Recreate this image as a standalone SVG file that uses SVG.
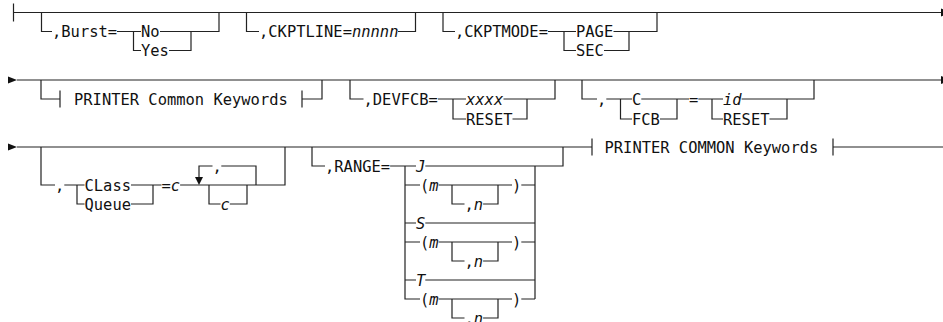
<svg xmlns="http://www.w3.org/2000/svg" width="943" height="322" viewBox="0 0 943 322">
<style>
.l{fill:none;stroke:#222;stroke-width:1.2}
.a{fill:#111;stroke:none}
text{font-family:"DejaVu Sans Mono",monospace;font-size:15.45px;fill:#111}
.i{font-style:italic}
</style>
<rect width="943" height="322" fill="#fff"/>
<g id="connectors">
<path class="l" d="M13.5 3.5V21.5M13.5 12.5H943"/>
<polygon class="a" points="941,8.5 951,12.5 941,16.5"/>
<path class="l" d="M41.5 12.5V31.5H52M117 31.5H141M133.5 31.5V50.5H141M160 31.5H219V12.5M169 50.5H191V31.5"/>
<path class="l" d="M246.5 12.5V31.5H259M398 31.5H415.5V12.5"/>
<path class="l" d="M443 12.5V31.5H455M548 31.5H576M564 31.5V50.5H576M613.5 31.5H657V12.5M604 50.5H629V31.5"/>
<polygon class="a" points="8,76.5 17,80 8,83.5"/>
<path class="l" d="M17 80H943"/>
<polygon class="a" points="941,76 951,80 941,84"/>
<path class="l" d="M41 80V99H60M60 90.5V107.5M302 90.5V107.5M302 99H322V80"/>
<path class="l" d="M350 80V99H363.5M438 99H466M453 99V119H466M503.5 99H555V80M512.5 119H527V99"/>
<path class="l" d="M582 80V99H597M606.3 99H632M620.5 99V119H632M641.3 99H689M660 119H677V99M698.3 99H723M712 99V119H723M741.6 99H814V80M769.5 119H787V99"/>
<polygon class="a" points="8,143.5 17,147 8,150.5"/>
<path class="l" d="M17 147H592M592 138.5V155.5M833 138.5V155.5M833 147H943"/>
<path class="l" d="M41 147V185H55M64.3 185H84.5M77 185V204H84.5M131 185H161.5M131 204H153V185M180.1 185H285V147"/>
<path class="l" d="M256 185V166H221.3M212.5 166H199V178M209 185V204H220.5M229.8 204H247V185"/>
<polygon class="a" points="195,177 203,177 199,185"/>
<path class="l" d="M312 147V166H325M390.1 166H416M425.3 166H563V147M405 166V299H420M405 185H420M405 223H416M405 242H420M405 280H416M535 166V299"/>
<path class="l" d="M425.3 223H535M425.3 280H535"/>
<path class="l" d="M438.6 185H512M521.3 185H535M452 185V204H464.5M483.1 204H498V185"/>
<path class="l" d="M438.6 242H512M521.3 242H535M452 242V261H464.5M483.1 261H498V242"/>
<path class="l" d="M438.6 299H512M521.3 299H535M452 299V318H464.5M483.1 318H498V299"/>
</g>
<g id="burst"><text x="52" y="37.1">,Burst=</text></g>
<g id="burst-no"><text x="141" y="37.1">No</text></g>
<g id="burst-yes"><text x="141" y="56.1">Yes</text></g>
<g id="ckptline"><text x="259" y="37.1">,CKPTLINE=<tspan class="i">nnnnn</tspan></text></g>
<g id="ckptmode"><text x="455" y="37.1">,CKPTMODE=</text></g>
<g id="ckptmode-page"><text x="576" y="37.1">PAGE</text></g>
<g id="ckptmode-sec"><text x="576" y="56.1">SEC</text></g>
<g id="printer-common"><text x="74" y="104.6">PRINTER Common Keywords</text></g>
<g id="devfcb"><text x="363.5" y="104.6">,DEVFCB=</text></g>
<g id="devfcb-xxxx"><text class="i" x="466" y="104.6">xxxx</text></g>
<g id="devfcb-reset"><text x="466" y="124.6">RESET</text></g>
<g id="fcb-comma"><text x="597" y="104.6">,</text></g>
<g id="fcb-c"><text x="632" y="104.6">C</text></g>
<g id="fcb-fcb"><text x="632" y="124.6">FCB</text></g>
<g id="fcb-eq"><text x="689" y="104.6">=</text></g>
<g id="fcb-id"><text class="i" x="723" y="104.6">id</text></g>
<g id="fcb-reset"><text x="723" y="124.6">RESET</text></g>
<g id="printer-common-2"><text x="604.5" y="152.6">PRINTER COMMON Keywords</text></g>
<g id="class-comma"><text x="55" y="190.6">,</text></g>
<g id="class"><text x="84.5" y="190.6">CLass</text></g>
<g id="queue"><text x="84.5" y="209.6">Queue</text></g>
<g id="class-eq"><text x="161.5" y="190.6">=<tspan class="i">c</tspan></text></g>
<g id="class-repsep"><text x="212.5" y="171.6">,</text></g>
<g id="class-c"><text class="i" x="220.5" y="209.6">c</text></g>
<g id="range"><text x="325" y="171.6">,RANGE=</text></g>
<g id="range-j"><text class="i" x="416" y="171.6">J</text></g>
<g id="range-m1"><text x="420" y="190.6">(<tspan class="i">m</tspan></text><text x="512" y="190.6">)</text></g>
<g id="range-n1"><text x="464.5" y="209.6">,<tspan class="i">n</tspan></text></g>
<g id="range-s"><text class="i" x="416" y="228.6">S</text></g>
<g id="range-m2"><text x="420" y="247.6">(<tspan class="i">m</tspan></text><text x="512" y="247.6">)</text></g>
<g id="range-n2"><text x="464.5" y="266.6">,<tspan class="i">n</tspan></text></g>
<g id="range-t"><text class="i" x="416" y="285.6">T</text></g>
<g id="range-m3"><text x="420" y="304.6">(<tspan class="i">m</tspan></text><text x="512" y="304.6">)</text></g>
<g id="range-n3"><text x="464.5" y="323.6">,<tspan class="i">n</tspan></text></g>
</svg>
